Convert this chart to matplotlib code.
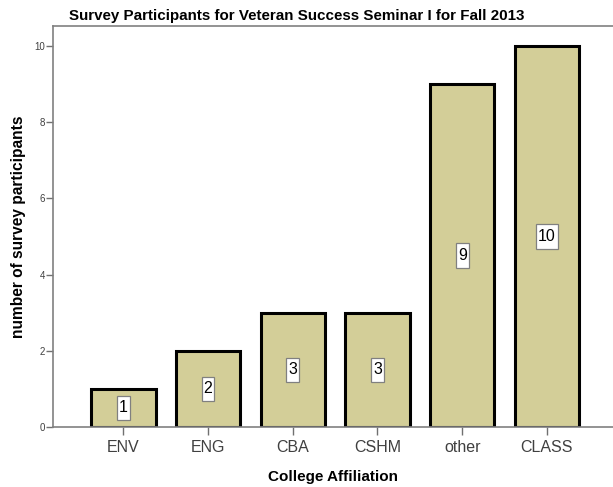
import matplotlib
matplotlib.use("Agg")
import matplotlib.pyplot as plt

# survey counts per college
colleges = ["ENV", "ENG", "CBA", "CSHM", "other", "CLASS"]
counts = [1, 2, 3, 3, 9, 10]
yticks = [0, 2, 4, 6, 8, 10]

plt.rcParams["font.family"] = ["Liberation Sans", "DejaVu Sans"]

fig = plt.figure(figsize=(6.13, 4.87), dpi=100)
ax = fig.add_axes([0.0865, 0.1232, 0.9135, 0.8234])

x = list(range(len(colleges)))
ax.bar(x, counts, width=0.76, color="#d3ce98", edgecolor="black", linewidth=2.2, zorder=2)

for xi, c in zip(x, counts):
    ax.text(xi, c / 2, str(c), ha="center", va="center", fontsize=11.5, color="black",
            bbox=dict(boxstyle="square,pad=0.12", mutation_aspect=2.4,
                      facecolor="white", edgecolor="#808080", linewidth=0.9),
            zorder=3)

ax.set_xlim(-0.83, 5.78)
ax.set_ylim(0, 10.52)
ax.set_xticks(x)
ax.set_xticklabels(colleges, fontsize=11.5, color="#404040")
ax.set_yticks(yticks)
ax.set_yticklabels([str(v) for v in yticks], fontsize=7, color="#404040")
ax.tick_params(axis="x", length=6, width=1, color="#707070", pad=3)
ax.tick_params(axis="y", length=5, width=1, color="#707070", pad=1)

for side in ["left", "top", "bottom"]:
    ax.spines[side].set_color("#808080")
    ax.spines[side].set_linewidth(1.2)
ax.spines["right"].set_visible(False)

ax.set_xlabel("College Affiliation", fontsize=11, fontweight="bold", labelpad=11)
ax.set_ylabel("number of survey participants", fontsize=11.2, fontweight="bold", labelpad=6)
ax.set_title("Survey Participants for Veteran Success Seminar I for Fall 2013",
             fontsize=10.9, fontweight="bold", pad=4, x=0.435)

fig.savefig("out.png", dpi=100)
